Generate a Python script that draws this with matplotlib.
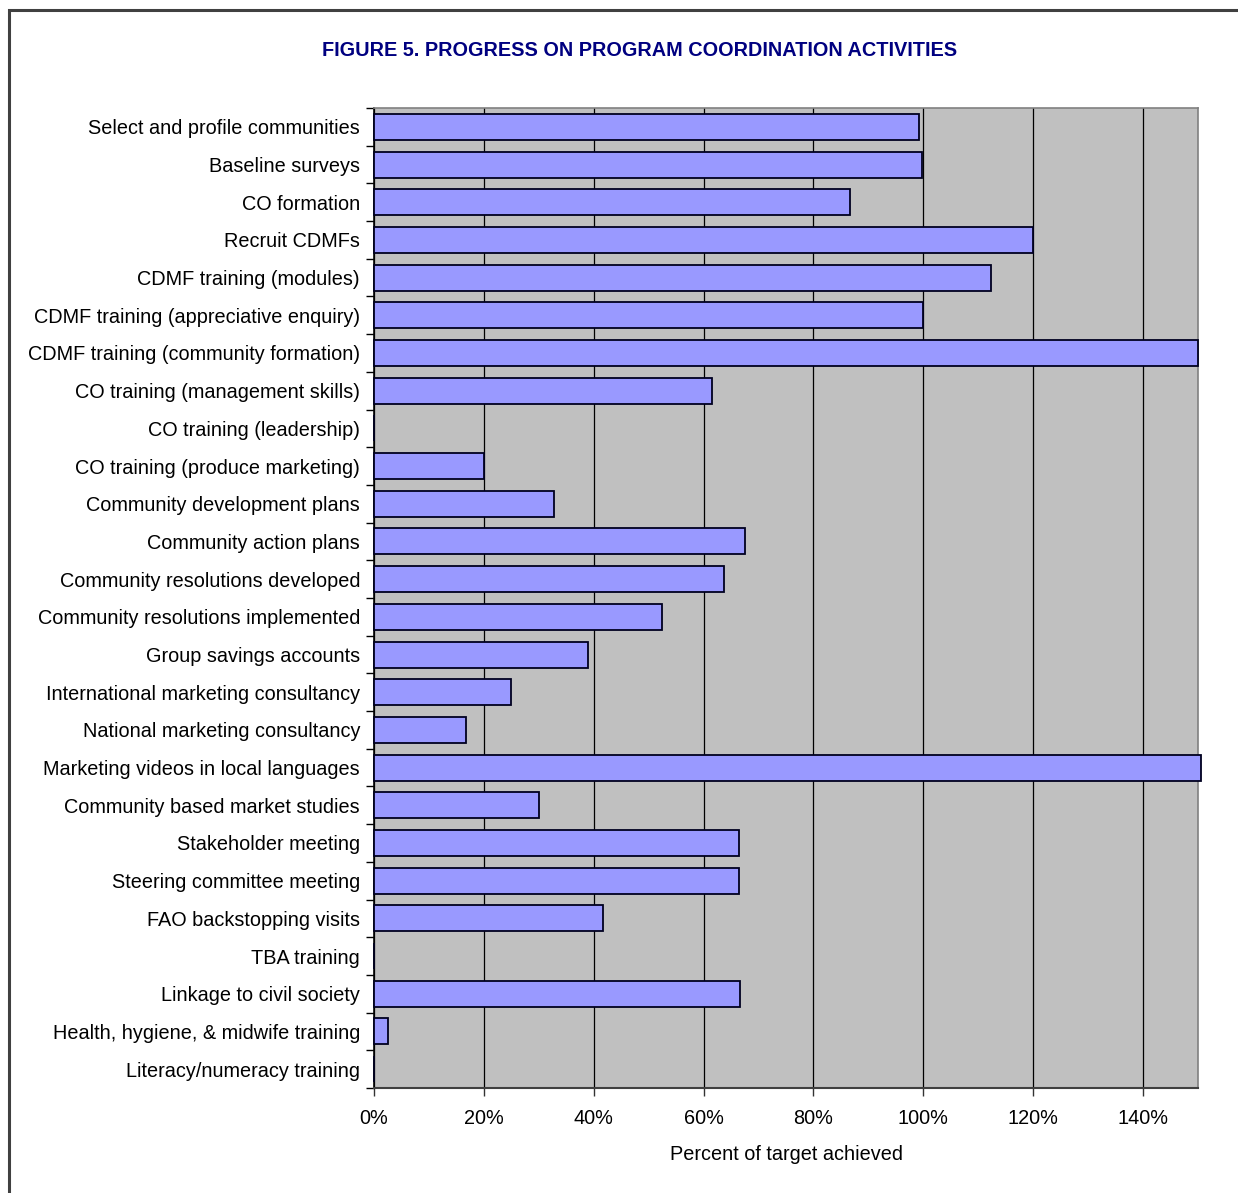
import matplotlib
matplotlib.use("Agg")
import matplotlib.pyplot as plt
from matplotlib.patches import Rectangle
import numpy as np

categories = [
    "Select and profile communities",
    "Baseline surveys",
    "CO formation",
    "Recruit CDMFs",
    "CDMF training (modules)",
    "CDMF training (appreciative enquiry)",
    "CDMF training (community formation)",
    "CO training (management skills)",
    "CO training (leadership)",
    "CO training (produce marketing)",
    "Community development plans",
    "Community action plans",
    "Community resolutions developed",
    "Community resolutions implemented",
    "Group savings accounts",
    "International marketing consultancy",
    "National marketing consultancy",
    "Marketing videos in local languages",
    "Community based market studies",
    "Stakeholder meeting",
    "Steering committee meeting",
    "FAO backstopping visits",
    "TBA training",
    "Linkage to civil society",
    "Health, hygiene, & midwife training",
    "Literacy/numeracy training",
]
values = [99.3, 99.8, 86.7, 120, 112.4, 100, 150, 61.5, 0, 20, 32.7, 67.6, 63.8,
          52.4, 38.9, 24.9, 16.7, 150.5, 30, 66.5, 66.5, 41.6, 0, 66.7, 2.5, 0]
xticks = [0, 20, 40, 60, 80, 100, 120, 140]
xticklabels = ["0%", "20%", "40%", "60%", "80%", "100%", "120%", "140%"]

plt.rcParams['font.family'] = ['Liberation Sans', 'DejaVu Sans']
FS = 14.3

W, H = 1238, 1193
fig = plt.figure(figsize=(W / 100, H / 100), dpi=100)

# outer border (extends beyond right and bottom edges)
fig.patches.append(Rectangle((9 / W, -0.2), 1.2, 1.2 - 10 / H, transform=fig.transFigure,
                             fill=False, edgecolor='#404040', linewidth=2.2))

left, right, top, bottom = 374, 1198, 108, 1088
ax = fig.add_axes([left / W, 1 - bottom / H, (right - left) / W, (bottom - top) / H])
ax.set_facecolor('#C0C0C0')

n = len(categories)
y = np.arange(n)
ax.barh(y, values, height=0.69, color='#9999FF', edgecolor='#000020', linewidth=1.3,
        zorder=3, clip_on=False)
ax.set_xlim(0, 150)
ax.set_ylim(n - 0.5, -0.5)

ax.set_xticks(xticks)
ax.set_xticklabels(xticklabels, fontsize=FS)
ax.xaxis.grid(True, color='black', linewidth=0.9, zorder=1)
ax.set_axisbelow(True)

ax.set_yticks(y)
ax.set_yticklabels(categories, fontsize=FS)
ax.tick_params(axis='y', length=0, pad=10)
ax.set_yticks(np.arange(n + 1) - 0.5, minor=True)
ax.tick_params(axis='y', which='minor', length=6, width=1, color='black', direction='out')
ax.tick_params(axis='x', length=6, width=1, color='#333333', direction='out', pad=9)

for s in ['top', 'right']:
    ax.spines[s].set_color('#808080')
    ax.spines[s].set_linewidth(1.2)
ax.spines['left'].set_color('black')
ax.spines['left'].set_linewidth(1.2)
ax.spines['bottom'].set_color('#404040')
ax.spines['bottom'].set_linewidth(1.5)

ax.set_xlabel("Percent of target achieved", fontsize=FS, labelpad=12)

fig.text(640 / W, 1 - 50 / H, "FIGURE 5. PROGRESS ON PROGRAM COORDINATION ACTIVITIES",
         ha='center', va='center', fontsize=14.3, fontweight='bold', color='#000080')

fig.savefig("out.png", dpi=100)
